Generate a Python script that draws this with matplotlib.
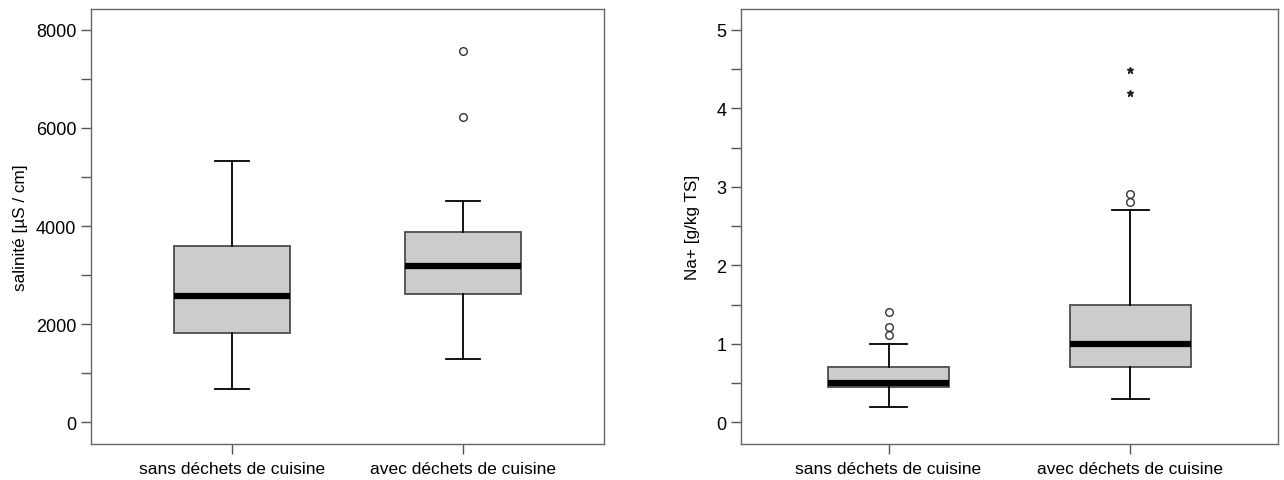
import numpy as np
import matplotlib.pyplot as plt
from matplotlib.ticker import MultipleLocator

plt.rcParams['font.family'] = ['Liberation Sans', 'DejaVu Sans']

groups = ['sans déchets de cuisine', 'avec déchets de cuisine']

# salinity [uS/cm]: whislo, q1, med, q3, whishi
sal_low = [680, 1300]
sal_q1 = [1830, 2610]
sal_med = [2580, 3190]
sal_q3 = [3600, 3870]
sal_high = [5320, 4510]
sal_out = [[], [7570, 6220]]
sal_ext = [[], []]

# Na+ [g/kg TS]
na_low = [0.20, 0.30]
na_q1 = [0.45, 0.70]
na_med = [0.50, 1.00]
na_q3 = [0.70, 1.50]
na_high = [1.00, 2.70]
na_out = [[1.40, 1.21, 1.11], [2.91, 2.81]]
na_ext = [[], [4.49, 4.19]]


def draw(ax, low, q1, med, q3, high, out, ext, ylim, major, minor, ylabel, lpad):
    stats = []
    for i in range(len(groups)):
        stats.append(dict(whislo=low[i], q1=q1[i], med=med[i], q3=q3[i],
                          whishi=high[i], fliers=out[i], label=groups[i]))
    ax.bxp(stats, positions=[1, 2], widths=0.5, patch_artist=True,
           boxprops=dict(facecolor='#cccccc', edgecolor='#4d4d4d', linewidth=1.3),
           medianprops=dict(color='black', linewidth=4.5, solid_capstyle='butt'),
           whiskerprops=dict(color='black', linewidth=1.3),
           capprops=dict(color='black', linewidth=1.3),
           capwidths=0.15,
           flierprops=dict(marker='o', markersize=5.5, markerfacecolor='none',
                           markeredgecolor='#333333', markeredgewidth=1.0))
    for i in range(len(groups)):
        if ext[i]:
            ax.plot([i + 1] * len(ext[i]), ext[i], linestyle='none', marker='*',
                    markersize=5, color='#222222')
    ax.set_xlim(0.39, 2.61)
    ax.set_ylim(*ylim)
    ax.yaxis.set_major_locator(MultipleLocator(major))
    ax.yaxis.set_minor_locator(MultipleLocator(minor))
    ax.tick_params(axis='both', which='both', direction='out', length=7,
                   width=1.0, color='#555555')
    ax.tick_params(axis='y', labelsize=13)
    ax.tick_params(axis='x', labelsize=12.5, pad=5)
    ax.set_xticklabels(groups)
    for s in ax.spines.values():
        s.set_color('#666666')
        s.set_linewidth(1.0)
    ax.set_ylabel(ylabel, fontsize=12.3, labelpad=lpad)


fig = plt.figure(figsize=(12.84, 4.81), dpi=100)
ax1 = fig.add_axes([91 / 1284, 36 / 481, 513 / 1284, 435 / 481])
ax2 = fig.add_axes([741 / 1284, 36 / 481, 537 / 1284, 435 / 481])

draw(ax1, sal_low, sal_q1, sal_med, sal_q3, sal_high, sal_out, sal_ext,
     (-440, 8420), 2000, 1000, 'salinité [µS / cm]', 6)
draw(ax2, na_low, na_q1, na_med, na_q3, na_high, na_out, na_ext,
     (-0.276, 5.265), 1, 0.5, 'Na+ [g/kg TS]', 12)

fig.savefig('out.png', dpi=100)
